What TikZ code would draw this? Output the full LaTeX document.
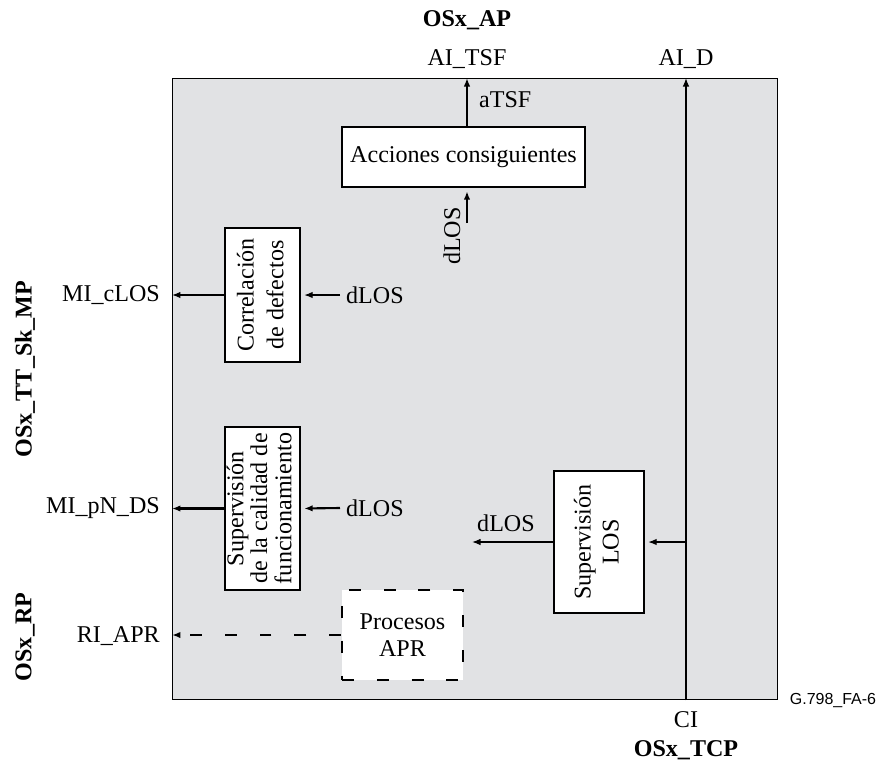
\documentclass[tikz,border=0pt]{standalone}
\usepackage{fontspec}
\setmainfont{Liberation Serif}
\newfontfamily\figsans{Liberation Sans}
\usetikzlibrary{arrows.meta}

\definecolor{panelgray}{RGB}{225,226,228}
\newcommand{\vstack}[1]{\rotatebox{90}{\begin{tabular}{@{}c@{}}#1\end{tabular}}}

\tikzset{
  blk/.style={draw,fill=white,line width=0.8pt,inner sep=0pt,align=center},
  sig/.style={-{Latex[length=1.7mm,width=1.3mm]},line width=0.7pt},
  sigb/.style={sig,line width=1.2pt},
  port/.style={font=\fontsize{13.7}{15.5}\selectfont\bfseries},
  apr dash/.style={dash pattern=on 6.8pt off 13pt},
}

\begin{document}
\begin{tikzpicture}[x=0.02cm,y=-0.02cm,>=Latex,font=\fontsize{13.7}{15.5}\selectfont]
\useasboundingbox (0,0) rectangle (877,762);

% frame
\node[draw,fill=panelgray,line width=0.8pt,inner sep=0pt,minimum width=12.1cm,
  minimum height=12.42cm,anchor=north west] (frame) at (172,78) {};

% blocks
\node[blk,minimum width=4.86cm,minimum height=1.2cm] (acc) at (463.5,157) {Acciones consiguientes};
\node[blk,minimum width=1.5cm,minimum height=2.68cm] (corr) at (262.5,295)
  {\fontsize{13.7}{17}\selectfont\vstack{Correlación\\de defectos}};
\node[blk,minimum width=1.5cm,minimum height=3.26cm] (perf) at (262.5,508.5)
  {\fontsize{13.7}{13.6}\selectfont\vstack{Supervisión\\de la calidad de\\funcionamiento}};
\node[blk,minimum width=1.8cm,minimum height=2.84cm] (los) at (599,542)
  {\fontsize{13.7}{16}\selectfont\vstack{Supervisión\\LOS}};
\node[blk,apr dash,line width=1.1pt,minimum width=2.42cm,minimum height=1.8cm] (apr) at (402.5,635)
  {Procesos\\APR};

% access points and signals
\node[port] (ap) at (467,20) {OSx\_AP};
\node (aitsf) at (467,59) {AI\_TSF};
\node (aid) at (686,59) {AI\_D};
\node[anchor=west] (atsf) at (473,100) {aTSF};
\node[rotate=90] (dlosacc) at (452,236) {dLOS};
\coordinate (dlostail) at (467,223);
\node[anchor=east] (micl) at (166,295) {MI\_cLOS};
\node[anchor=west] (dloscorr) at (340,295) {dLOS};
\node[anchor=east] (mipn) at (166,508) {MI\_pN\_DS};
\node[anchor=west] (dlosperf) at (340,508) {dLOS};
\node[anchor=east] (riapr) at (166,636) {RI\_APR};
\node (dloslos) at (506,523) {dLOS};
\coordinate (dlosend) at (472,542);
\node (ci) at (686,720) {CI};
\node[port] (tcp) at (686,750) {OSx\_TCP};
\node[port,rotate=90] (mp) at (25,369) {OSx\_TT\_Sk\_MP};
\node[port,rotate=90] (rp) at (25,637) {OSx\_RP};
\node[font=\figsans\fontsize{9.1}{10}\selectfont,inner sep=0pt] (fig) at (833,700) {G.798\_FA-6};

% connections
\draw[sigb] (acc.north -| aitsf) -- (aitsf |- frame.north);
\draw[sigb,shorten >=2pt] (dlostail) -- (dlostail |- acc.south);
\draw[sig] (corr.west) -- (corr.west -| frame.west);
\draw[sig,shorten >=2pt] (dloscorr.west) -- (corr.east);
\draw[sigb] (perf.west) -- (perf.west -| frame.west);
\draw[sigb,shorten >=2pt] (dlosperf.west) -- (perf.east);
\draw[sigb,apr dash] (apr.west) -- (apr.west -| frame.west);
\draw[sig] (ci |- frame.south) -- (ci |- frame.north);
\draw[sig,shorten >=2pt] (ci |- los.east) -- (los.east);
\draw[sig] (los.west) -- (dlosend);
\end{tikzpicture}
\end{document}
